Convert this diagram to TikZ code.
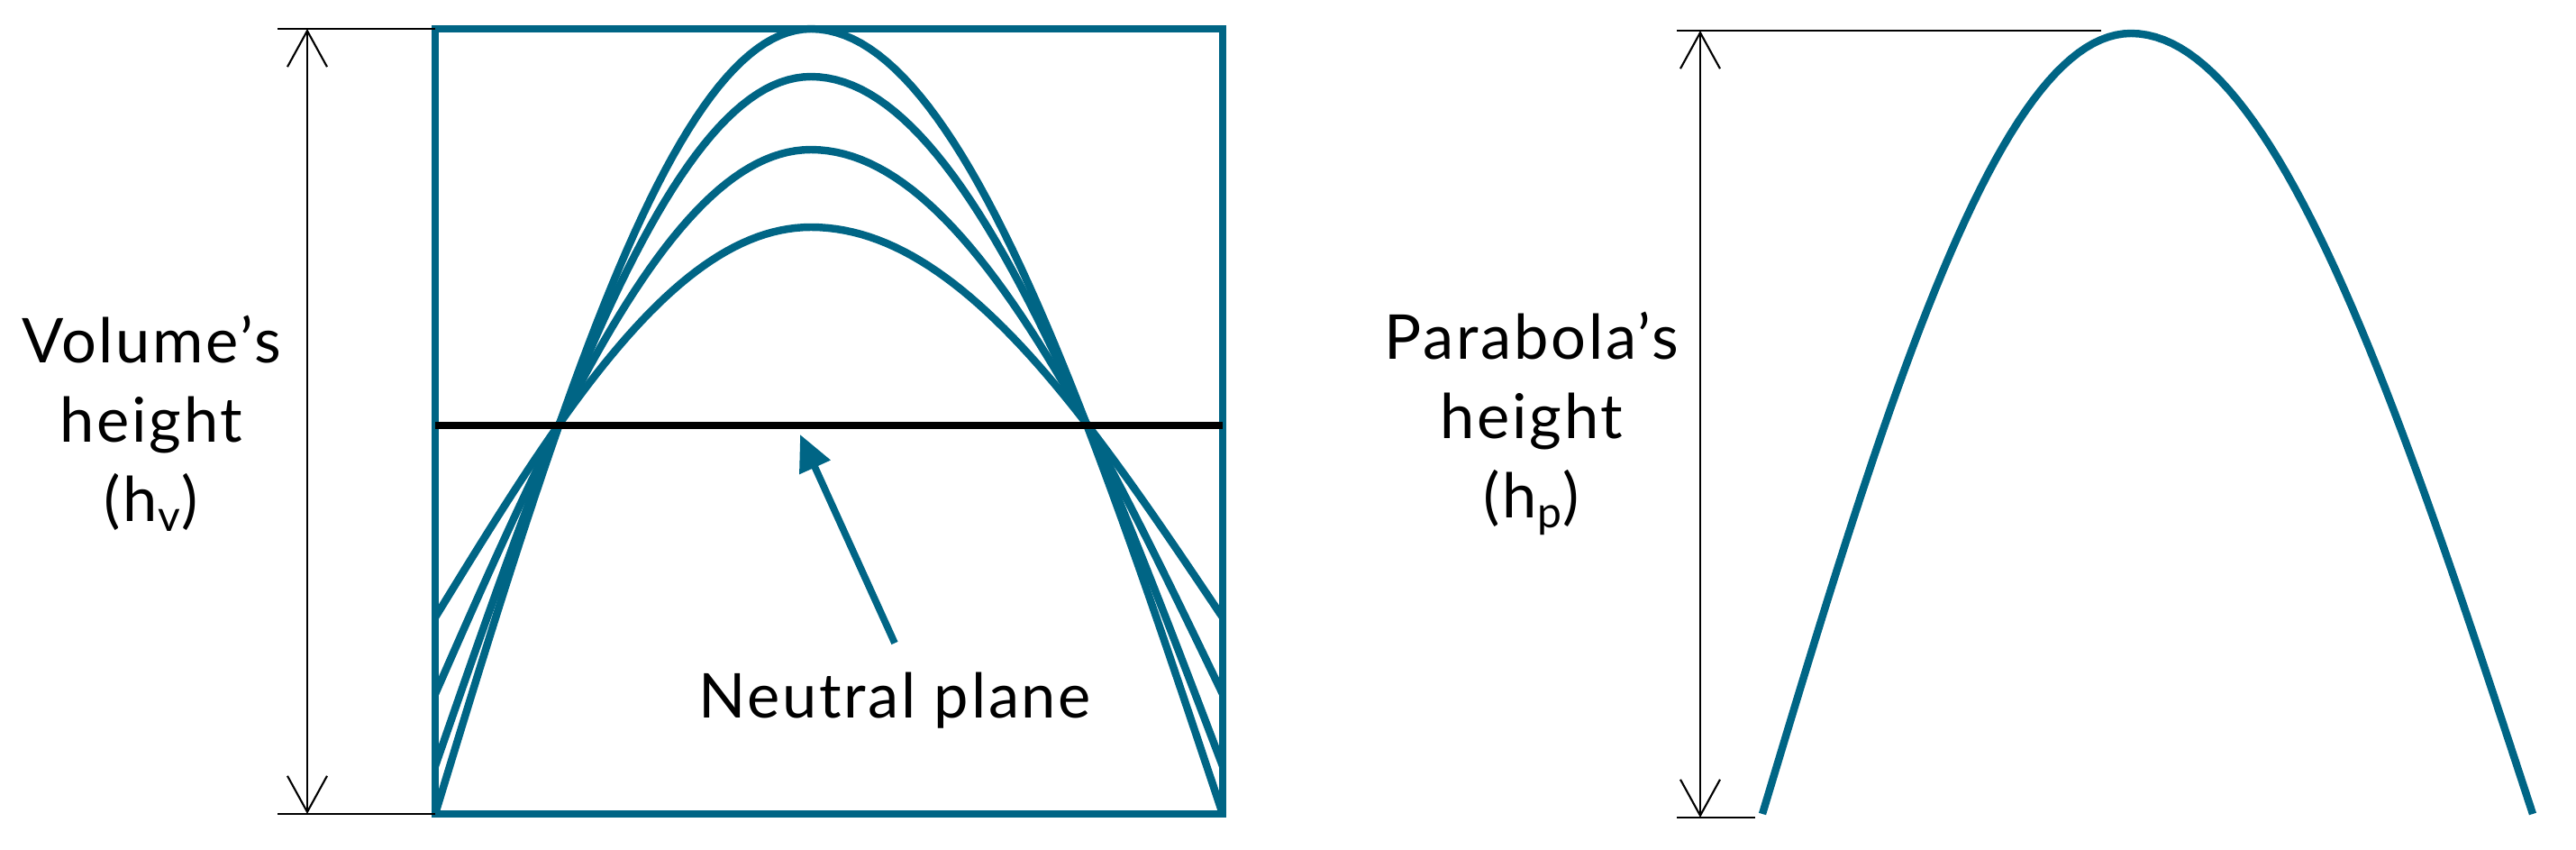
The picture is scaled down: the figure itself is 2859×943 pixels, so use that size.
\documentclass[tikz,border=0pt]{standalone}
\usepackage{fontspec}
\setmainfont{Lato}[LetterSpace=4]
\usetikzlibrary{arrows.meta, positioning}

\definecolor{steelteal}{RGB}{0,101,133}

\begin{document}
\begin{tikzpicture}[
		x=0.01cm, y=-0.01cm,
		every node/.style={font=\fontsize{19.5}{25}\selectfont, align=center},
		outline/.style={draw=steelteal, line width=2.5pt},
		curve/.style={steelteal, line width=2.4pt, line join=round},
		neutral/.style={black, line width=2pt},
		dimline/.style={black, line width=0.6pt},
		dimarrow/.style={
			{Straight Barb[length=4mm,width=4.4mm]}-{Straight Barb[length=4mm,width=4.4mm]},
			black,
			line width=0.6pt
		},
		pointer/.style={
			-{Triangle[length=4mm,width=3.6mm]},
			steelteal,
			line width=2.2pt
		}
		]
		
		\useasboundingbox (0,0) rectangle (2859,943);
		
		% Volume box
		\coordinate (tl) at (483,32);
		\coordinate (br) at (1357,903);
		\coordinate (bl) at (tl |- br);
		
		% Deformed layers
		\foreach \c/\p in {685/252, 770/166, 850/85, 903/32} {
			\draw[curve] plot[domain=483:900, samples=50] (\x, {\c-(\c-\p)*sin((\x-483)/417*90)})
			-- plot[domain=900:1357, samples=50] (\x, {\c-(\c-\p)*sin((1357-\x)/457*90)});
		}
		\draw[outline] (tl) rectangle (br);
		
		% Neutral plane
		\coordinate (nl) at (483,472);
		\coordinate (nr) at (1357,472);
		\draw[neutral] (nl) -- (nr);
		\node (np) at (993,777) {Neutral plane};
		\coordinate (npt) at (888,482);
		\draw[pointer] ([yshift=2mm]np.north) -- (npt);
		
		% Volume's height
		\coordinate (vt) at (341,32);
		\coordinate (vb) at (341,903);
		\draw[dimline] (tl) -- ++(-175,0);
		\draw[dimline] (bl) -- ++(-175,0);
		\draw[dimarrow] (vb) -- (vt);
		\node (hv) at (168,470) {Volume's\\height\\(h\textsubscript{v})};
		
		% Parabola
		\draw[curve] plot[domain=1956:2365, samples=50] (\x, {903-866*sin((\x-1956)/409*90)})
		-- plot[domain=2365:2811, samples=50] (\x, {903-866*sin((2811-\x)/446*90)});
		
		% Parabola's height
		\coordinate (pt) at (1887,34);
		\coordinate (pb) at (1887,907);
		\draw[dimline] (1861,34) -- (2332,34);
		\draw[dimline] (1861,907) -- (1948,907);
		\draw[dimarrow] (pb) -- (pt);
		\node (hp) at (1700,470) {Parabola's\\height\\(h\textsubscript{p})};
		
	\end{tikzpicture}
\end{document}
